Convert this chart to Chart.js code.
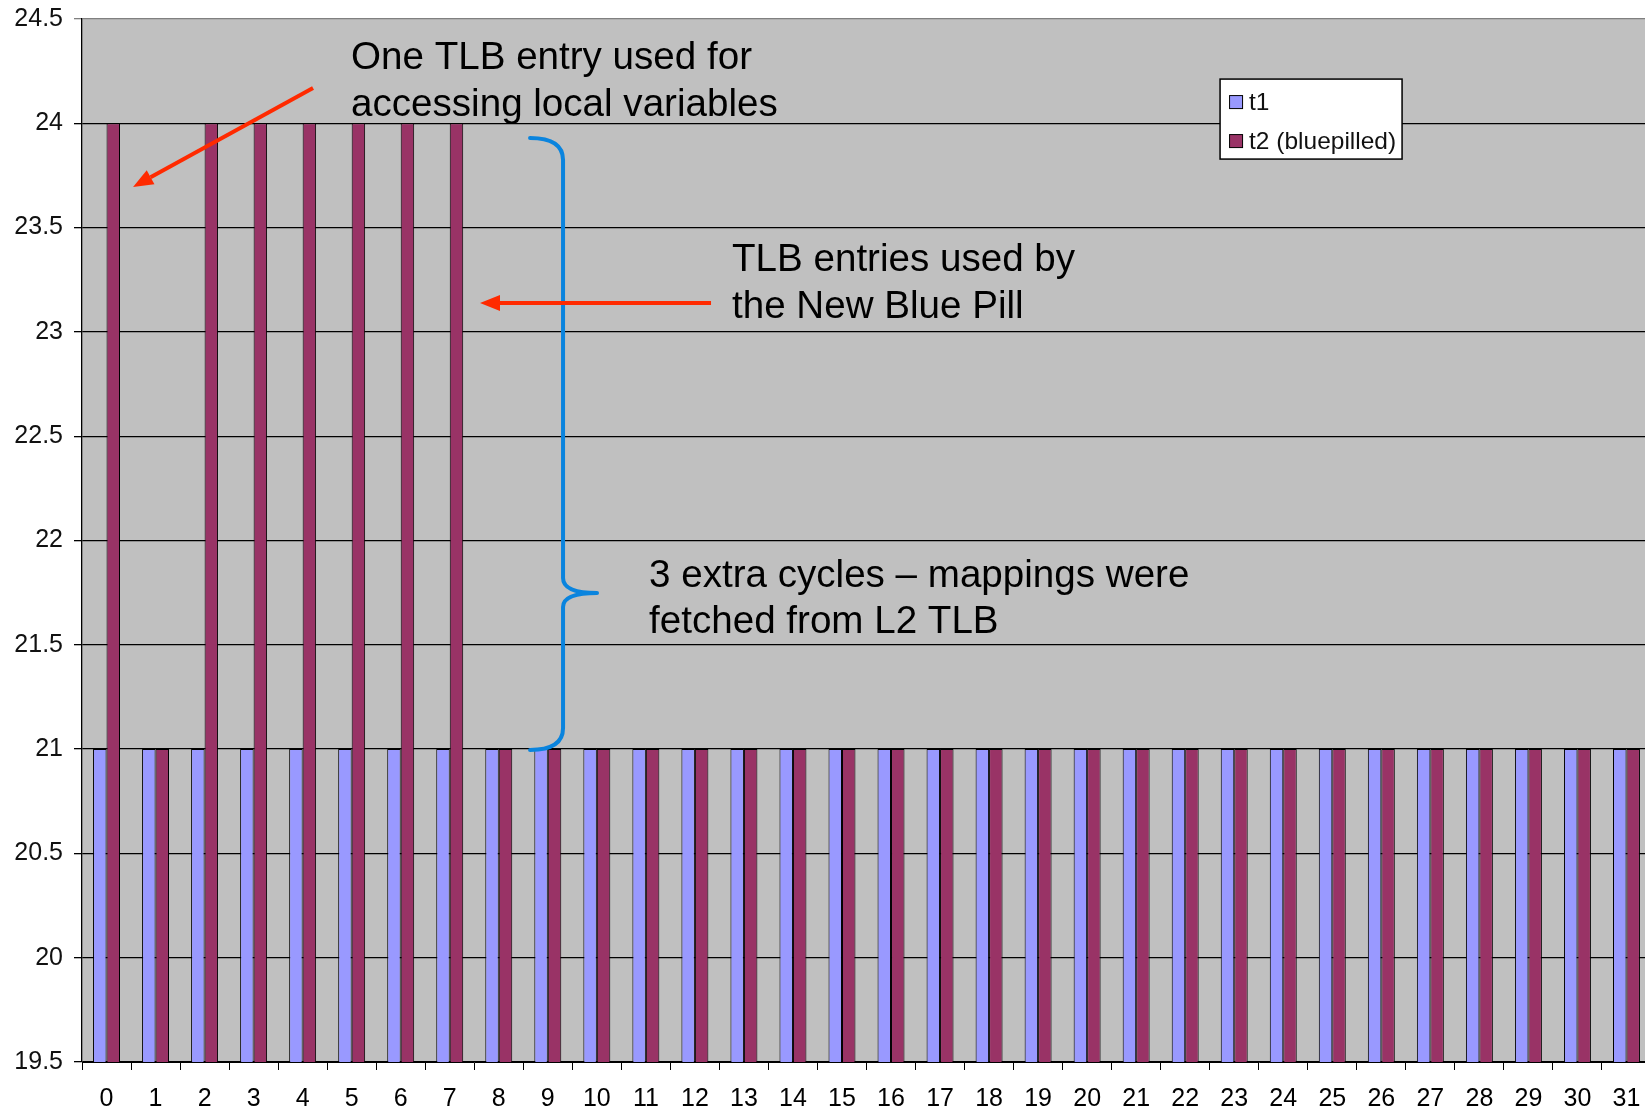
<!DOCTYPE html>
<html>
<head>
<meta charset="utf-8">
<script src="https://cdn.jsdelivr.net/npm/chart.js@4/dist/chart.umd.min.js"></script>
<style>
  html, body { margin: 0; padding: 0; background: #fff; overflow: hidden; }
  #wrap { width: 1660px; height: 1111px; }
</style>
</head>
<body>
<div id="wrap"><canvas id="c" width="1660" height="1111"></canvas></div>
<script>
const categories = ['0','1','2','3','4','5','6','7','8','9','10','11','12','13','14','15',
                    '16','17','18','19','20','21','22','23','24','25','26','27','28','29','30','31'];
const seriesNames = ['t1', 't2 (bluepilled)'];
const t1Values = [21,21,21,21,21,21,21,21,21,21,21,21,21,21,21,21,
                  21,21,21,21,21,21,21,21,21,21,21,21,21,21,21,21];
const t2Values = [24,21,24,24,24,24,24,24,21,21,21,21,21,21,21,21,
                  21,21,21,21,21,21,21,21,21,21,21,21,21,21,21,21];
const yMin = 19.5, yMax = 24.5, yStep = 0.5;
const noteLines = [
  ['One TLB entry used for', 'accessing local variables'],
  ['TLB entries used by', 'the New Blue Pill'],
  ['3 extra cycles \u2013 mappings were', 'fetched from L2 TLB']
];

const FONT = '"Liberation Sans", Arial, sans-serif';

const bgPlugin = {
  id: 'plotBg',
  beforeDraw(chart) {
    const a = chart.chartArea, ctx = chart.ctx;
    ctx.save();
    ctx.fillStyle = '#C0C0C0';
    ctx.fillRect(a.left, a.top, a.right - a.left, a.bottom - a.top);
    ctx.restore();
  }
};

const notesPlugin = {
  id: 'notes',
  afterDatasetsDraw(chart) {
    const ctx = chart.ctx, xs = chart.scales.x, ys = chart.scales.y;
    const p0 = xs.getPixelForValue(0), p1 = xs.getPixelForValue(1);
    const P = (c, v) => [p0 + c * (p1 - p0), ys.getPixelForValue(v)];

    // Legend
    const [lx, ly] = P(22.711, 24.212);
    const lw = 182, lh = 80;
    ctx.save();
    ctx.fillStyle = '#fff';
    ctx.fillRect(lx, ly, lw, lh);
    ctx.strokeStyle = '#000';
    ctx.lineWidth = 1.5;
    ctx.strokeRect(lx, ly, lw, lh);
    ctx.font = '24.5px ' + FONT;
    ctx.textBaseline = 'middle';
    ctx.textAlign = 'left';
    chart.data.datasets.forEach((d, i) => {
      const cy = ly + 23 + i * 39;
      ctx.fillStyle = d.backgroundColor;
      ctx.fillRect(lx + 9.5, cy - 6.5, 13, 13);
      ctx.strokeStyle = '#000';
      ctx.lineWidth = 1;
      ctx.strokeRect(lx + 9.5, cy - 6.5, 13, 13);
      ctx.fillStyle = '#111';
      ctx.fillText(d.label, lx + 29, cy + 1);
    });
    ctx.restore();

    // Blue brace
    ctx.save();
    ctx.strokeStyle = '#0A84DE';
    ctx.lineWidth = 4;
    ctx.lineCap = 'round';
    ctx.lineJoin = 'round';
    const vx = 9.311;
    ctx.beginPath();
    let p = P(8.638, 23.930); ctx.moveTo(p[0], p[1]);
    let c = P(vx, 23.930); p = P(vx, 23.824); ctx.quadraticCurveTo(c[0], c[1], p[0], p[1]);
    p = P(vx, 21.820); ctx.lineTo(p[0], p[1]);
    c = P(vx, 21.748); p = P(10.004, 21.748); ctx.quadraticCurveTo(c[0], c[1], p[0], p[1]);
    c = P(vx, 21.748); p = P(vx, 21.681); ctx.quadraticCurveTo(c[0], c[1], p[0], p[1]);
    p = P(vx, 21.101); ctx.lineTo(p[0], p[1]);
    c = P(vx, 20.996); p = P(8.638, 20.996); ctx.quadraticCurveTo(c[0], c[1], p[0], p[1]);
    ctx.stroke();
    ctx.restore();

    // Red arrows
    function arrow(from, to) {
      const [x0, y0] = P(from[0], from[1]);
      const [x1, y1] = P(to[0], to[1]);
      const ang = Math.atan2(y1 - y0, x1 - x0);
      const hl = 20, hw = 8;
      const bx = x1 - hl * Math.cos(ang), by = y1 - hl * Math.sin(ang);
      ctx.save();
      ctx.strokeStyle = '#FF2A00';
      ctx.fillStyle = '#FF2A00';
      ctx.lineWidth = 4;
      ctx.beginPath();
      ctx.moveTo(x0, y0);
      ctx.lineTo(bx, by);
      ctx.stroke();
      ctx.beginPath();
      ctx.moveTo(x1, y1);
      ctx.lineTo(bx + hw * Math.sin(ang), by - hw * Math.cos(ang));
      ctx.lineTo(bx - hw * Math.sin(ang), by + hw * Math.cos(ang));
      ctx.closePath();
      ctx.fill();
      ctx.restore();
    }
    arrow([4.212, 24.169], [0.541, 23.695]);
    arrow([12.329, 23.139], [7.617, 23.139]);

    // Texts
    ctx.save();
    ctx.fillStyle = '#000';
    ctx.font = '38.6px ' + FONT;
    ctx.textBaseline = 'middle';
    ctx.textAlign = 'left';
    const anchors = [
      [4.987, 24.313, 24.088],
      [12.757, 23.345, 23.119],
      [11.065, 21.830, 21.609]
    ];
    noteLines.forEach((lines, i) => {
      const a = anchors[i];
      let q = P(a[0], a[1]); ctx.fillText(lines[0], q[0], q[1]);
      q = P(a[0], a[2]); ctx.fillText(lines[1], q[0], q[1]);
    });
    ctx.restore();
  }
};

new Chart(document.getElementById('c'), {
  type: 'bar',
  data: {
    labels: categories,
    datasets: [
      { label: seriesNames[0], data: t1Values, backgroundColor: '#9999FF', borderColor: '#000', borderWidth: 1,
        categoryPercentage: 0.55, barPercentage: 1.0 },
      { label: seriesNames[1], data: t2Values, backgroundColor: '#993366', borderColor: '#000', borderWidth: 1,
        categoryPercentage: 0.55, barPercentage: 1.0 }
    ]
  },
  options: {
    responsive: false,
    animation: false,
    devicePixelRatio: 1,
    layout: { padding: { top: 19, right: 9, left: 0, bottom: 0 } },
    plugins: { legend: { display: false }, tooltip: { enabled: false } },
    scales: {
      x: {
        offset: true,
        grid: { display: true, drawOnChartArea: false, drawTicks: true, tickLength: 8, color: '#000', offset: true },
        border: { display: true, color: '#000', width: 1 },
        ticks: { color: '#000', font: { family: FONT, size: 25 }, padding: 14, maxRotation: 0, autoSkip: false },
        afterFit(s) { s.height = 49; s.paddingLeft = 0; s.paddingRight = 0; }
      },
      y: {
        min: yMin, max: yMax,
        grid: { color: (ctx) => (ctx.tick && ctx.tick.value === yMax ? '#808080' : '#000'), lineWidth: 1.3, tickLength: 8, drawTicks: true },
        border: { display: true, color: '#000', width: 1.3 },
        ticks: { stepSize: yStep, color: '#111', font: { family: FONT, size: 25 }, padding: 11,
                 callback: (v) => String(Number(v)) },
        afterFit(s) { s.width = 82; s.paddingTop = 0; s.paddingBottom = 0; }
      }
    }
  },
  plugins: [bgPlugin, notesPlugin]
});
</script>
</body>
</html>
